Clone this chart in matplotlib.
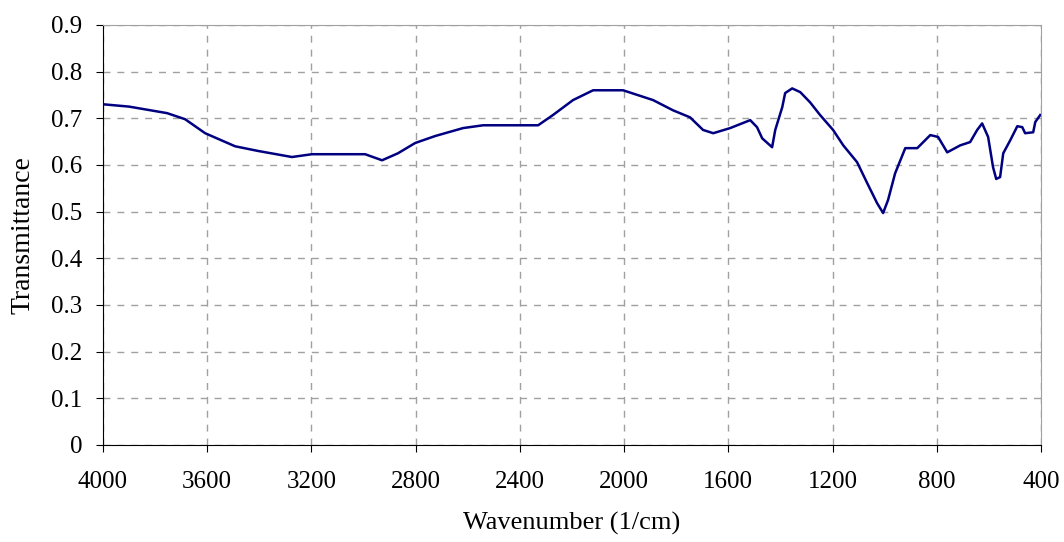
import matplotlib
matplotlib.use("Agg")
import matplotlib.pyplot as plt

# FTIR spectrum (wavenumber in 1/cm, transmittance)
wavenumber = [
    4000, 3900, 3754, 3685, 3608, 3493, 3405, 3275, 3198, 2994, 2929, 2868,
    2802, 2725, 2618, 2541, 2330, 2273, 2196, 2119, 2004, 1889, 1812, 1747,
    1697, 1658, 1593, 1516, 1490, 1470, 1432, 1420, 1393, 1382, 1355, 1324,
    1286, 1248, 1198, 1159, 1106, 1067, 1029, 1006, 987, 960, 921, 875, 825,
    795, 760, 710, 672, 645, 626, 603, 584, 572, 557, 545, 518, 491, 472,
    461, 430, 422, 403,
]
transmittance = [
    0.730, 0.725, 0.711, 0.698, 0.668, 0.640, 0.630, 0.617, 0.623, 0.623,
    0.610, 0.625, 0.647, 0.662, 0.679, 0.685, 0.685, 0.707, 0.739, 0.760,
    0.760, 0.739, 0.717, 0.702, 0.675, 0.668, 0.679, 0.696, 0.681, 0.657,
    0.638, 0.675, 0.724, 0.754, 0.764, 0.756, 0.734, 0.707, 0.675, 0.642,
    0.606, 0.561, 0.518, 0.497, 0.525, 0.582, 0.636, 0.636, 0.664, 0.660,
    0.627, 0.642, 0.649, 0.675, 0.689, 0.660, 0.595, 0.570, 0.574, 0.625,
    0.653, 0.683, 0.681, 0.668, 0.670, 0.692, 0.707,
]
x_ticks = [4000, 3600, 3200, 2800, 2400, 2000, 1600, 1200, 800, 400]
y_ticks = [0, 0.1, 0.2, 0.3, 0.4, 0.5, 0.6, 0.7, 0.8, 0.9]

plt.rcParams["font.family"] = ["Liberation Serif", "DejaVu Serif"]

fig = plt.figure(figsize=(10.64, 5.42), dpi=100)
ax = fig.add_axes([0.0968, 0.179, 0.8816, 0.775])

ax.plot(wavenumber, transmittance, color="#000080", lw=1.8)

ax.set_xlim(4000, 400)
ax.set_ylim(0, 0.9)
ax.set_xticks(x_ticks)
ax.set_yticks(y_ticks)
ax.set_yticklabels(["0" if v == 0 else f"{v:.1f}" for v in y_ticks])
ax.grid(True, color="#a0a0a0", linestyle=(0, (5, 5)), lw=1)
ax.set_axisbelow(True)

for side in ("top", "right"):
    ax.spines[side].set_color("#a0a0a0")
for side in ("left", "bottom"):
    ax.spines[side].set_color("black")
ax.tick_params(direction="out", length=5, labelsize=18)
ax.tick_params(axis="y", pad=10)
ax.tick_params(axis="x", pad=14)

ax.set_xlabel("Wavenumber (1/cm)", fontsize=19, labelpad=13)
ax.set_ylabel("Transmittance", fontsize=20, labelpad=11)

fig.savefig("out.png", dpi=100)
